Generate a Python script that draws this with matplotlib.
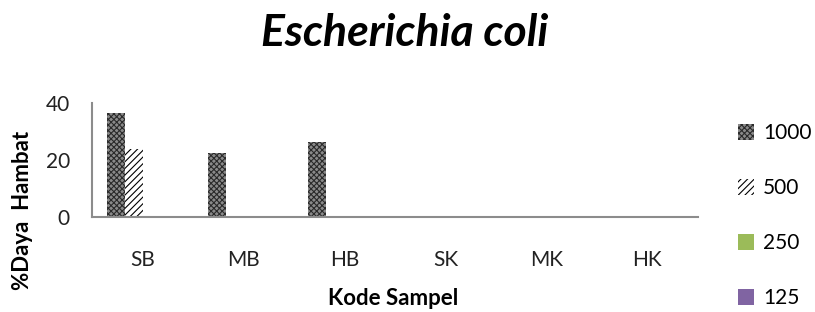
import matplotlib
matplotlib.use("Agg")
import matplotlib.pyplot as plt
from matplotlib.patches import Patch
import numpy as np

plt.rcParams['font.family'] = ['Lato', 'DejaVu Sans']
plt.rcParams['hatch.linewidth'] = 0.8

# data
categories = ['SB', 'MB', 'HB', 'SK', 'MK', 'HK']
series_names = ['1000', '500', '250', '125']
val_1000 = [36.5, 22.4, 26.3, 0, 0, 0]
val_500 = [24.0, 0, 0, 0, 0, 0]
val_250 = [0, 0, 0, 0, 0, 0]
val_125 = [0, 0, 0, 0, 0, 0]
yticks = [0, 20, 40]

series = [val_1000, val_500, val_250, val_125]
faces = ['#8a8a8a', 'white', '#9bbb59', '#8064a2']
hatches = ['xxxxxx', '/////', None, None]
edges = ['#2a2a2a', 'black', '#9bbb59', '#8064a2']

fig = plt.figure(figsize=(8.15, 3.12), dpi=100)
ax = fig.add_axes([0.113, 0.3045, 0.743, 0.3655])

x = np.arange(len(categories))
w = 0.178
for i, vals in enumerate(series):
    ax.bar(x - 1.5 * w + i * w, vals, width=w, color=faces[i], hatch=hatches[i],
           edgecolor=edges[i], linewidth=0)

ax.set_xlim(-0.5, len(categories) - 0.5)
ax.set_ylim(0, 40)
ax.set_yticks(yticks)
ax.set_xticks(x)
ax.set_xticklabels(categories)
ax.tick_params(axis='both', length=0, labelsize=15, colors='#222222')
ax.tick_params(axis='x', pad=24)
ax.tick_params(axis='y', pad=16)
for s in ['top', 'right']:
    ax.spines[s].set_visible(False)
for s in ['left', 'bottom']:
    ax.spines[s].set_color('#8c8c8c')
    ax.spines[s].set_linewidth(1.5)

fig.text(0.497, 0.894, 'Escherichia coli', fontsize=32, fontweight='bold',
         fontstyle='italic', ha='center', va='center')
fig.text(0.482, 0.024, 'Kode Sampel', fontsize=16, fontweight='bold',
         ha='center', va='baseline')
fig.text(0.027, 0.324, '%Daya  Hambat', fontsize=16, fontweight='bold',
         rotation=90, ha='center', va='center')

handles = [Patch(facecolor=faces[i], hatch=hatches[i], edgecolor=edges[i], linewidth=0)
           for i in range(len(series_names))]
fig.legend(handles, series_names, loc='upper left', bbox_to_anchor=(0.893, 0.638),
           frameon=False, fontsize=15, handlelength=0.75, handleheight=0.75,
           handletextpad=0.45, labelspacing=1.68, borderpad=0)

fig.savefig('out.png', dpi=100)
